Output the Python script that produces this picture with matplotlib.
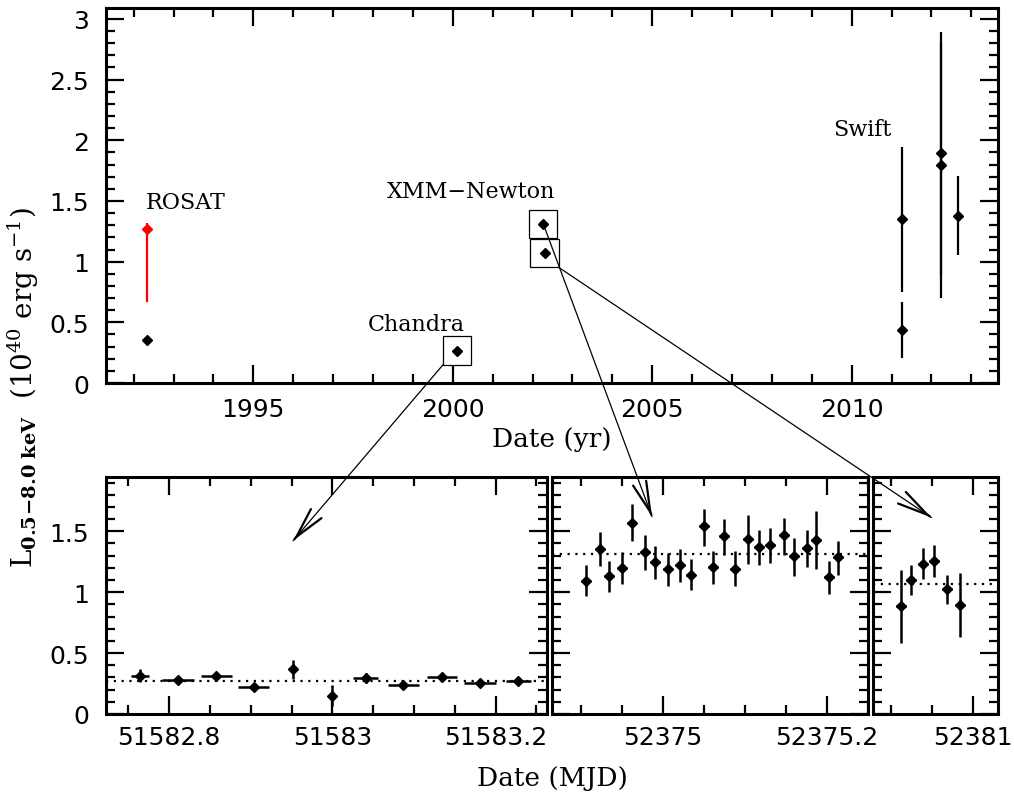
import matplotlib
matplotlib.use('Agg')
import matplotlib.pyplot as plt
import numpy as np
from matplotlib.patches import Rectangle, ConnectionPatch, FancyArrowPatch, ArrowStyle
from matplotlib.ticker import MultipleLocator, FuncFormatter
from matplotlib.transforms import IdentityTransform

plt.rcParams['font.family'] = ['DejaVu Sans']
plt.rcParams['mathtext.fontset'] = 'dejavuserif'

# ---------------- data: long-term light curve (top) ----------------
rosat_year = [1992.335]
rosat_lum = [1.27]
rosat_lo = [0.665]
rosat_hi = [1.32]

rosat2_year = [1992.335]
rosat2_lum = [0.353]

chandra_year = [2000.11]
chandra_lum = [0.267]

xmm_year = [2002.27, 2002.30]
xmm_lum = [1.31, 1.07]

swift_year = [2011.25, 2011.25, 2012.24, 2012.24, 2012.66]
swift_lum = [1.348, 0.438, 1.897, 1.800, 1.379]
swift_lo = [0.749, 0.206, 0.892, 0.699, 1.051]
swift_hi = [1.943, 0.666, 2.896, 2.800, 1.704]

# ---------------- data: Chandra light curve ----------------
ch_mjd = [51582.765, 51582.811, 51582.858, 51582.904, 51582.952, 51582.999,
          51583.041, 51583.087, 51583.134, 51583.181, 51583.228]
ch_lum = [0.314, 0.282, 0.314, 0.224, 0.369, 0.150, 0.293, 0.238, 0.306, 0.257, 0.268]
ch_lerr = [0.055, 0.025, 0.030, 0.020, 0.078, 0.085, 0.040, 0.025, 0.025, 0.025, 0.025]
ch_terr = [0.011, 0.0194, 0.0188, 0.019, 0.005, 0.0, 0.0153, 0.019, 0.0186, 0.0194, 0.0157]

# ---------------- data: XMM-Newton obs 1 ----------------
x1_mjd = [52374.907, 52374.924, 52374.935, 52374.950, 52374.962, 52374.978, 52374.991,
          52375.006, 52375.021, 52375.034, 52375.050, 52375.061, 52375.075, 52375.088,
          52375.104, 52375.117, 52375.131, 52375.148, 52375.160, 52375.176, 52375.187,
          52375.203, 52375.214]
x1_lum = [1.096, 1.357, 1.131, 1.199, 1.572, 1.330, 1.248, 1.191, 1.226, 1.145, 1.540, 1.208,
          1.464, 1.194, 1.439, 1.371, 1.390, 1.469, 1.294, 1.363, 1.431, 1.126, 1.286]
x1_hi = [1.221, 1.494, 1.259, 1.330, 1.723, 1.466, 1.376, 1.322, 1.355, 1.273, 1.682, 1.341,
         1.603, 1.335, 1.630, 1.507, 1.526, 1.608, 1.445, 1.507, 1.668, 1.259, 1.417]
x1_lo = [0.967, 1.213, 1.000, 1.068, 1.423, 1.186, 1.109, 1.055, 1.087, 1.016, 1.382, 1.069,
         1.308, 1.049, 1.235, 1.226, 1.237, 1.308, 1.137, 1.208, 1.194, 0.989, 1.145]

# ---------------- data: XMM-Newton obs 2 ----------------
x2_mjd = [52380.912, 52380.924, 52380.939, 52380.952, 52380.968, 52380.984]
x2_lum = [0.886, 1.104, 1.235, 1.259, 1.028, 0.899]
x2_hi = [1.186, 1.221, 1.363, 1.384, 1.145, 1.159]
x2_lo = [0.586, 0.976, 1.112, 1.123, 0.905, 0.635]
xmm_bin_half = 0.006

# ---------------- figure ----------------
W, H = 1014, 804
fig = plt.figure(figsize=(W / 100, H / 100), dpi=100)


def fx(px):
    return px / W


def fy(py):
    return 1 - py / H


ax_top = fig.add_axes([fx(106), fy(384), fx(998 - 106), (384 - 9) / H])
bot_b, bot_t = 715, 477.5
ax1 = fig.add_axes([fx(106), fy(bot_b), fx(547.3 - 106), (bot_b - bot_t) / H])
ax2 = fig.add_axes([fx(552.3), fy(bot_b), fx(868.3 - 552.3), (bot_b - bot_t) / H])
ax3 = fig.add_axes([fx(873.3), fy(bot_b), fx(998.3 - 873.3), (bot_b - bot_t) / H])

fmt = FuncFormatter(lambda v, p: '%g' % round(v, 4))
TICKFS = 18


def style(ax, xmaj, xmin, ymaj, ymin, ylabels=True, xpad=9):
    ax.xaxis.set_major_locator(MultipleLocator(xmaj))
    ax.xaxis.set_minor_locator(MultipleLocator(xmin))
    ax.yaxis.set_major_locator(MultipleLocator(ymaj))
    ax.yaxis.set_minor_locator(MultipleLocator(ymin))
    ax.xaxis.set_major_formatter(fmt)
    ax.yaxis.set_major_formatter(fmt)
    ax.tick_params(which='both', direction='in', top=True, right=True, width=1.6)
    ax.tick_params(which='major', length=13)
    ax.tick_params(which='minor', length=6.5)
    ax.tick_params(axis='x', which='major', labelsize=TICKFS, pad=xpad)
    ax.tick_params(axis='y', which='major', labelsize=TICKFS, pad=12, labelleft=ylabels)
    for s in ax.spines.values():
        s.set_linewidth(2.2)


mk = dict(marker='D', ms=5, color='k', ls='none')

# ---- top panel ----
ax_top.set_xlim(1991.307, 2013.668)
ax_top.set_ylim(0, 3.09)
style(ax_top, 5, 1, 0.5, 0.1, xpad=10)

ry = np.array(rosat_lum)
ax_top.errorbar(rosat_year, rosat_lum,
                yerr=[ry - np.array(rosat_lo), np.array(rosat_hi) - ry],
                marker='D', ms=5, color='red', ls='none', elinewidth=1.6, capsize=0)
ax_top.plot(rosat2_year, rosat2_lum, **mk)
ax_top.plot(chandra_year, chandra_lum, **mk)
ax_top.plot(xmm_year, xmm_lum, **mk)
sy = np.array(swift_lum)
ax_top.errorbar(swift_year, swift_lum,
                yerr=[sy - np.array(swift_lo), np.array(swift_hi) - sy],
                elinewidth=1.6, capsize=0, **mk)

bw, bh = 0.355, 0.117
for xc, yc in [(chandra_year[0], chandra_lum[0]), (xmm_year[0], xmm_lum[0]),
               (xmm_year[1], xmm_lum[1])]:
    ax_top.add_patch(Rectangle((xc - bw, yc - bh), 2 * bw, 2 * bh, fill=False,
                               lw=0.9, ec='k', zorder=3))

tfs = 16
ax_top.text(1992.3, 1.495, 'ROSAT', family='DejaVu Serif', fontsize=tfs, ha='left', va='center')
ax_top.text(2000.47, 1.585, 'XMM\u2212Newton', family='DejaVu Serif', fontsize=tfs, ha='center', va='center')
ax_top.text(1999.09, 0.487, 'Chandra', family='DejaVu Serif', fontsize=tfs, ha='center', va='center')
ax_top.text(2010.26, 2.089, 'Swift', family='DejaVu Serif', fontsize=tfs, ha='center', va='center')
ax_top.set_xlabel('Date (yr)', family='DejaVu Serif', fontsize=19, labelpad=4)

# ---- bottom panels ----
ylim_b = (0, 1.95)


def lc(ax, t, l, lo, hi, terr):
    l = np.array(l)
    ax.errorbar(t, l, yerr=[l - np.array(lo), np.array(hi) - l], xerr=terr,
                elinewidth=1.8, capsize=0, **mk)


ax1.set_xlim(51582.7228, 51583.2633)
ax1.set_ylim(*ylim_b)
style(ax1, 0.2, 0.05, 0.5, 0.1, xpad=8)
cl = np.array(ch_lum)
lc(ax1, ch_mjd, ch_lum, cl - np.array(ch_lerr), cl + np.array(ch_lerr), ch_terr)
ax1.axhline(chandra_lum[0], ls=(0, (1, 2.5)), lw=1.6, color='k')

ax2.set_xlim(52374.8654, 52375.2507)
ax2.set_ylim(*ylim_b)
style(ax2, 0.2, 0.05, 0.5, 0.1, ylabels=False, xpad=8)
lc(ax2, x1_mjd, x1_lum, x1_lo, x1_hi, xmm_bin_half)
ax2.axhline(xmm_lum[0], ls=(0, (1, 2.5)), lw=1.6, color='k')

ax3.set_xlim(52380.878, 52381.0305)
ax3.set_ylim(*ylim_b)
style(ax3, 0.2, 0.05, 0.5, 0.1, ylabels=False, xpad=8)
lc(ax3, x2_mjd, x2_lum, x2_lo, x2_hi, xmm_bin_half)
ax3.axhline(xmm_lum[1], ls=(0, (1, 2.5)), lw=1.6, color='k')

fig.text(fx(552), fy(779), 'Date (MJD)', family='DejaVu Serif', fontsize=19,
         ha='center', va='center')
fig.text(fx(23), fy(388),
         r'L$_{\mathbf{0.5\!-\!8.0\ keV}}$  (10$^{40}$ erg s$^{-1}$)',
         family='DejaVu Serif', fontsize=20, rotation=90, ha='center', va='center')

# ---- zoom arrows ----
arrows = [
    (ax1, (chandra_year[0] - bw, chandra_lum[0] - bh), (51582.952, 1.423)),
    (ax2, (xmm_year[0], xmm_lum[0]), (52374.987, 1.621)),
    (ax3, (xmm_year[1] + bw, xmm_lum[1] - bh), (52380.949, 1.613)),
]
for ax, A, B in arrows:
    cp = ConnectionPatch(xyA=A, coordsA=ax_top.transData, xyB=B, coordsB=ax.transData,
                         arrowstyle='-', lw=0.9, color='k', zorder=5)
    fig.add_artist(cp)
    a = ax_top.transData.transform(A)
    b = ax.transData.transform(B)
    d = (b - a) / np.hypot(*(b - a))
    c = b - 2.0 * d
    head = FancyArrowPatch(posA=tuple(c), posB=tuple(b), transform=IdentityTransform(),
                           arrowstyle=ArrowStyle('->', head_length=2.2, head_width=0.5),
                           mutation_scale=10, lw=1.6, color='k', shrinkA=0, shrinkB=0)
    fig.add_artist(head)

fig.savefig('out.png', dpi=100)
